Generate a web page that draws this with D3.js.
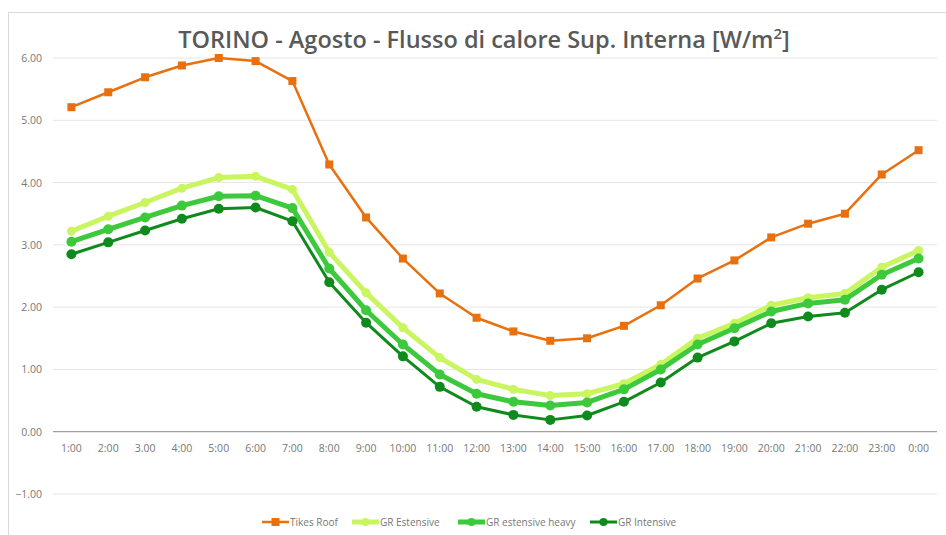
<!DOCTYPE html>
<html>
<head>
<meta charset="utf-8">
<script src="https://cdn.jsdelivr.net/npm/d3@7"></script>
<style>
  body { margin: 0; background: #fff; }
  svg { display: block; }
</style>
</head>
<body>
<div id="chart"></div>
<script>
const hours = ["1:00","2:00","3.00","4:00","5:00","6:00","7:00","8:00","9:00","10:00","11:00","12:00",
  "13:00","14:00","15:00","16:00","17.00","18:00","19:00","20:00","21:00","22:00","23:00","0:00"];

const tikesRoof = [5.21,5.45,5.69,5.88,6.00,5.95,5.63,4.29,3.44,2.78,2.22,1.83,
  1.61,1.46,1.50,1.70,2.03,2.46,2.75,3.12,3.34,3.50,4.13,4.52];
const grEstensive = [3.22,3.46,3.68,3.91,4.08,4.10,3.89,2.88,2.23,1.67,1.19,0.84,
  0.68,0.58,0.61,0.77,1.08,1.50,1.74,2.03,2.15,2.22,2.64,2.91];
const grEstHeavy = [3.05,3.25,3.44,3.63,3.78,3.79,3.59,2.62,1.95,1.40,0.92,0.61,
  0.48,0.42,0.47,0.68,1.00,1.40,1.66,1.93,2.06,2.12,2.52,2.78];
const grIntensive = [2.85,3.04,3.23,3.42,3.58,3.60,3.38,2.40,1.75,1.21,0.72,0.40,
  0.27,0.19,0.26,0.48,0.79,1.19,1.45,1.74,1.85,1.91,2.28,2.56];

const yTicks = [-1,0,1,2,3,4,5,6];

const series = [
  {name: "Tikes Roof", values: tikesRoof, color: "#e8700f", width: 2.5, marker: "square", size: 4},
  {name: "GR Estensive", values: grEstensive, color: "#c9f560", width: 5, marker: "circle", size: 4.5},
  {name: "GR estensive heavy", values: grEstHeavy, color: "#3cc93c", width: 5, marker: "circle", size: 5},
  {name: "GR Intensive", values: grIntensive, color: "#0f8a1c", width: 3, marker: "circle", size: 5}
];

const width = 946, height = 535;
const svg = d3.select("#chart").append("svg")
  .attr("width", width).attr("height", height);

// outer frame
svg.append("rect")
  .attr("x", 8.5).attr("y", 12.5)
  .attr("width", 960).attr("height", 560)
  .attr("fill", "#fff").attr("stroke", "#d9d9d9");

const x = d3.scaleBand().domain(hours).range([53, 937]);
const y = d3.scaleLinear().domain([-1, 6]).range([494, 58]);

// gridlines
svg.append("g")
  .selectAll("line")
  .data(yTicks)
  .join("line")
    .attr("x1", 53).attr("x2", 937)
    .attr("y1", d => y(d)).attr("y2", d => y(d))
    .attr("stroke", d => d === 0 ? "#a99c9c" : "#e6e6e6")
    .attr("stroke-width", d => d === 0 ? 1.3 : 1);

// y labels
svg.append("g")
  .selectAll("text")
  .data(yTicks)
  .join("text")
    .attr("x", 42).attr("y", d => y(d) + 4)
    .attr("text-anchor", "end")
    .style("font-family", "'Open Sans', sans-serif")
    .style("font-size", "10.5px")
    .style("fill", "#777")
    .text(d => d3.format(".2f")(d));

// x labels
svg.append("g")
  .selectAll("text")
  .data(hours)
  .join("text")
    .attr("x", d => x(d) + x.bandwidth() / 2)
    .attr("y", 452)
    .attr("text-anchor", "middle")
    .style("font-family", "'Open Sans', sans-serif")
    .style("font-size", "10.5px")
    .style("fill", "#777")
    .text(d => d);

const line = d3.line()
  .x((d, i) => x(hours[i]) + x.bandwidth() / 2)
  .y(d => y(d));

series.forEach(s => {
  const g = svg.append("g");
  g.append("path")
    .datum(s.values)
    .attr("d", line)
    .attr("fill", "none")
    .attr("stroke", s.color)
    .attr("stroke-width", s.width)
    .attr("stroke-linejoin", "round");
  if (s.marker === "square") {
    g.selectAll("rect")
      .data(s.values)
      .join("rect")
        .attr("x", (d, i) => x(hours[i]) + x.bandwidth() / 2 - s.size)
        .attr("y", d => y(d) - s.size)
        .attr("width", s.size * 2).attr("height", s.size * 2)
        .attr("fill", s.color);
  } else {
    g.selectAll("circle")
      .data(s.values)
      .join("circle")
        .attr("cx", (d, i) => x(hours[i]) + x.bandwidth() / 2)
        .attr("cy", d => y(d))
        .attr("r", s.size)
        .attr("fill", s.color);
  }
});

// title
svg.append("text")
  .attr("x", 484).attr("y", 48)
  .attr("text-anchor", "middle")
  .style("font-family", "'Open Sans', sans-serif")
  .style("font-size", "23.5px")
  .style("font-weight", 600)
  .style("fill", "#595959")
  .text("TORINO - Agosto - Flusso di calore Sup. Interna [W/m")
  .append("tspan")
    .attr("dy", -9).style("font-size", "15px").text("2")
  .clone(true)
    .attr("dy", 9).style("font-size", "23.5px").text("]");

// legend
const legendX = [262, 352, 458, 590];
const legend = svg.append("g");
series.forEach((s, i) => {
  const lg = legend.append("g").attr("transform", `translate(${legendX[i]},522)`);
  lg.append("line")
    .attr("x1", 0).attr("x2", 27)
    .attr("stroke", s.color).attr("stroke-width", s.width);
  if (s.marker === "square") {
    lg.append("rect").attr("x", 9.5).attr("y", -4).attr("width", 8).attr("height", 8).attr("fill", s.color);
  } else {
    lg.append("circle").attr("cx", 13.5).attr("r", 4).attr("fill", s.color);
  }
  lg.append("text")
    .attr("x", 28).attr("y", 4)
    .style("font-family", "'Open Sans', sans-serif")
    .style("font-size", "10px")
    .style("fill", "#777")
    .text(s.name);
});
</script>
</body>
</html>
